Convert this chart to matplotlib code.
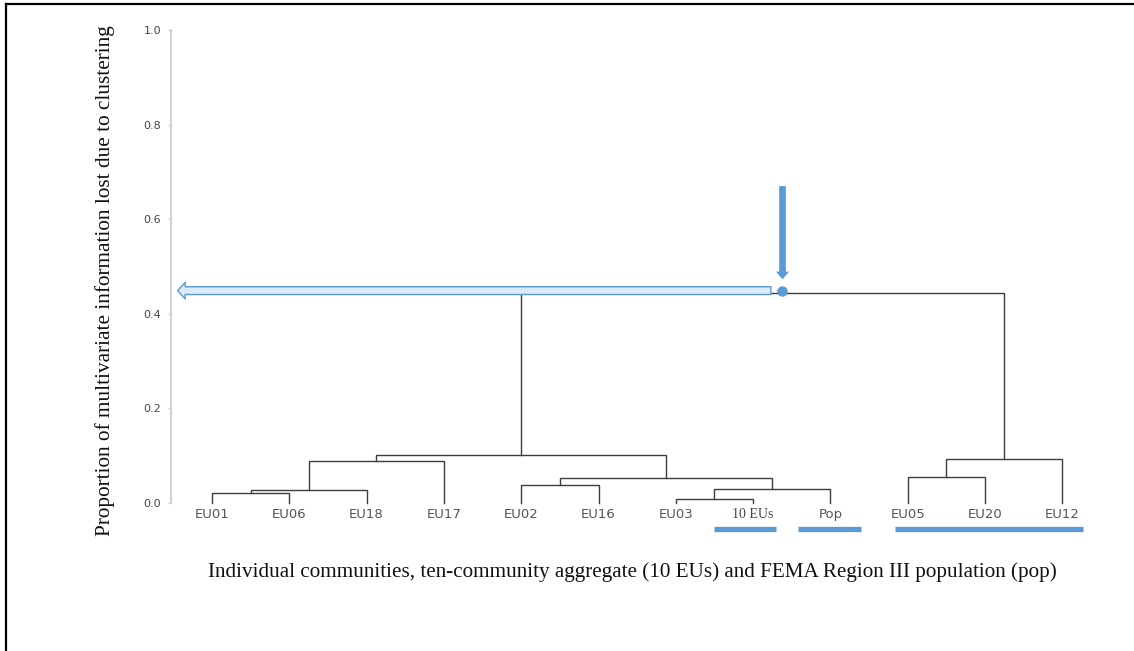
import matplotlib
matplotlib.use("Agg")
import matplotlib.pyplot as plt
from matplotlib.patches import FancyArrowPatch, ArrowStyle
from matplotlib.lines import Line2D

# Leaves of the dendrogram, left to right
leaves = ["EU01", "EU06", "EU18", "EU17", "EU02", "EU16",
          "EU03", "10 EUs", "Pop", "EU05", "EU20", "EU12"]

# Agglomeration steps: (left node, right node, height).
# Nodes 0..11 are leaves; merge k creates node 12 + k.
merge_left = [0, 12, 13, 4, 6, 16, 15, 14, 9, 20, 19]
merge_right = [1, 2, 3, 5, 7, 8, 17, 18, 10, 11, 21]
merge_height = [0.022, 0.028, 0.089, 0.039, 0.008, 0.030,
                0.052, 0.101, 0.056, 0.092, 0.444]

y_ticks = [0.0, 0.2, 0.4, 0.6, 0.8, 1.0]
y_tick_labels = ["0.0", "0.2", "0.4", "0.6", "0.8", "1.0"]

y_label = "Proportion of multivariate information lost due to clustering"
x_label = ("Individual communities, ten-community aggregate (10 EUs) "
           "and FEMA Region III population (pop)")

# Cut level highlighted on the tree
cut_level = 0.449

BLUE = "#5b9bd5"
LINE = "#3c3c3c"

W, H = 1134, 651
fig = plt.figure(figsize=(W / 100, H / 100), dpi=100)
fig.patch.set_facecolor("white")

ax = fig.add_axes([171 / W, 148 / H, 930 / W, 473 / H])
ax.set_xlim(-0.53, 11.5)
ax.set_ylim(0, 1)

for side in ("top", "right", "bottom"):
    ax.spines[side].set_visible(False)
ax.spines["left"].set_color("#c8cdd0")
ax.spines["left"].set_linewidth(1.3)
ax.set_xticks([])
ax.set_yticks(y_ticks)
ax.set_yticklabels(y_tick_labels)
ax.tick_params(axis="y", length=2.5, width=0.8, color="#c8cdd0",
               labelcolor="#444444", labelsize=8, pad=4.5)

# Build node positions and draw the U-shaped links
node_x = {i: float(i) for i in range(len(leaves))}
node_h = {i: 0.0 for i in range(len(leaves))}
for k, (a, b, h) in enumerate(zip(merge_left, merge_right, merge_height)):
    xa, xb = node_x[a], node_x[b]
    ax.plot([xa, xa, xb, xb], [node_h[a], h, h, node_h[b]],
            color=LINE, lw=1.0, clip_on=False, solid_joinstyle="miter")
    node_x[len(leaves) + k] = (xa + xb) / 2
    node_h[len(leaves) + k] = h

# Leaf labels
for i, name in enumerate(leaves):
    if name == "10 EUs":
        ax.text(i, -0.024, name, ha="center", va="center", fontsize=10,
                family="Liberation Serif", color="#444444", clip_on=False)
    else:
        ax.text(i, -0.024, name, ha="center", va="center", fontsize=9.5,
                family="DejaVu Sans", color="#555555", clip_on=False)

# Blue underlines marking the aggregate, the population and the outlier group
bar_y = -0.056
bar_spans = [(7 - 0.51, 7 + 0.30), (8 - 0.42, 8 + 0.40), (9 - 0.16, 11 + 0.27)]
for x0, x1 in bar_spans:
    ax.plot([x0, x1], [bar_y, bar_y], color=BLUE, lw=3.8,
            solid_capstyle="butt", clip_on=False)

# Marker at the cut point with a pointer arrow from above
cut_x = 7.38
ax.plot([cut_x], [cut_level], "o", ms=6.5, color=BLUE, clip_on=False, zorder=5)
down = FancyArrowPatch((cut_x, 0.670), (cut_x, 0.473),
                       arrowstyle=ArrowStyle.Simple(head_length=5.5,
                                                    head_width=9.4,
                                                    tail_width=4.8),
                       mutation_scale=1, shrinkA=0, shrinkB=0,
                       facecolor=BLUE, edgecolor="none", clip_on=False)
ax.add_patch(down)

# Hollow arrow carrying the cut level back to the y axis
left = FancyArrowPatch((7.23, cut_level), (-0.445, cut_level),
                       arrowstyle=ArrowStyle.Simple(head_length=5.5,
                                                    head_width=12,
                                                    tail_width=5.6),
                       mutation_scale=1, shrinkA=0, shrinkB=0,
                       facecolor="#dce9f6", edgecolor=BLUE, lw=1.0,
                       clip_on=False, zorder=4)
ax.add_patch(left)

# Axis titles
fig.text(105 / W, 1 - 281 / H, y_label, rotation=90, ha="center",
         va="center", family="Liberation Serif", fontsize=15.3, color="#111111")
fig.text(632 / W, 1 - 572 / H, x_label, ha="center", va="center",
         family="Liberation Serif", fontsize=15.2, color="#111111")

# Frame lines along the top and left edges
fig.add_artist(Line2D([6 / W, 6 / W], [0, 1 - 4 / H], transform=fig.transFigure,
                      color="black", lw=1.6))
fig.add_artist(Line2D([6 / W, 1], [1 - 4 / H, 1 - 4 / H],
                      transform=fig.transFigure, color="black", lw=1.6))

fig.savefig("out.png", dpi=100)
